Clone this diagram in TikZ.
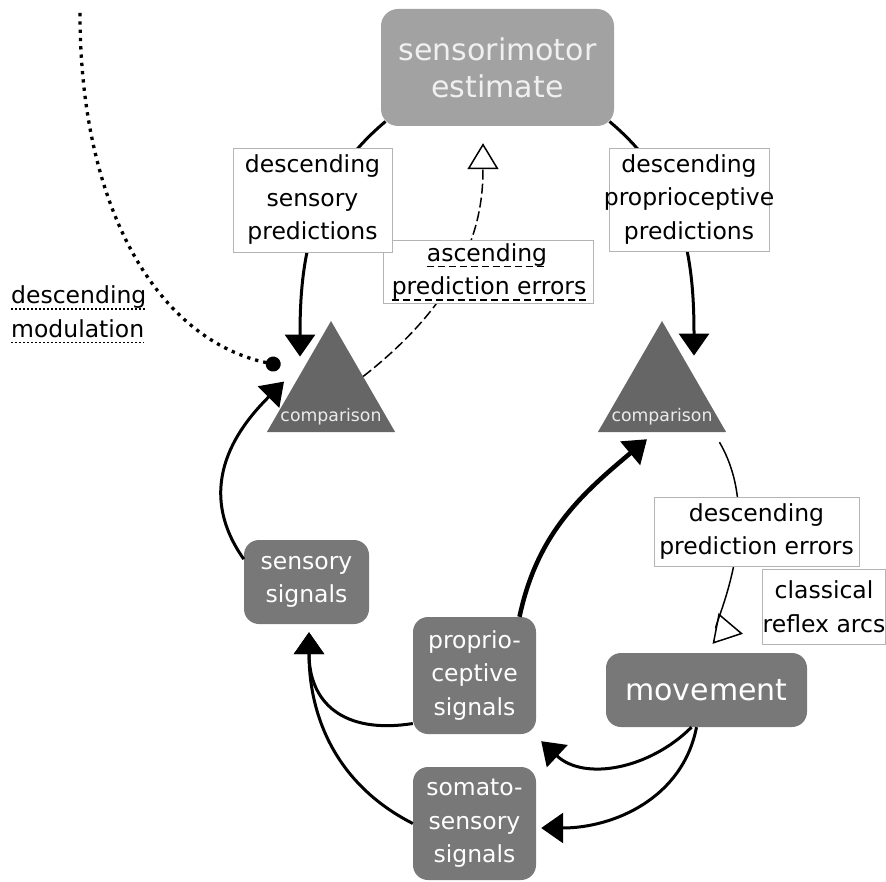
\documentclass[tikz,border=0pt]{standalone}
\usepackage{fontspec}
\setmainfont{DejaVu Sans}
\usetikzlibrary{arrows.meta,shapes.geometric}

\definecolor{estgray}{HTML}{A2A2A2}
\definecolor{boxgray}{HTML}{787878}
\definecolor{cmpgray}{HTML}{666666}
\definecolor{lblframe}{HTML}{B4B4B4}

\begin{document}
\begin{tikzpicture}[x=1pt, y=1pt,
    txt/.style={font=\fontsize{23.5}{33.5}\selectfont, align=center},
    lbl/.style={txt, draw=lblframe, line width=0.8pt, fill=white, inner sep=0pt},
    sig/.style={txt, text=white, fill=boxgray, rounded corners=15pt, inner sep=0pt},
    cmp/.style={regular polygon, regular polygon sides=3, fill=cmpgray, minimum size=148pt, inner sep=0pt},
    cmptxt/.style={font=\fontsize{17.3}{20}\selectfont, text=white!92!black, inner sep=0pt},
    pred/.style={line width=3pt, -{Triangle[length=22pt,width=30pt]}},
    err/.style={line width=1.5pt, -{Triangle[open,length=26pt,width=31pt]}},
    dashul/.style={line width=1.3pt, dash pattern=on 7pt off 4pt},
    dotul/.style={line width=1.6pt, dash pattern=on 1.6pt off 2.4pt}]

    \useasboundingbox (0,0) rectangle (886,-882);

    % Estimate and comparisons
    \node[txt, text=white!94!black, fill=estgray, rounded corners=17pt, inner sep=0pt,
          font=\fontsize{30}{37}\selectfont, minimum width=233pt, minimum height=117pt]
          (est) at (497.5,-67.5) {sensorimotor\\estimate};
    \node[cmp] (cmpL) at (331,-395) {};
    \node[cmp] (cmpR) at (662,-395) {};
    \node[cmptxt, anchor=base] (cmpLtxt) at ([yshift=11pt]cmpL.south) {comparison};
    \node[cmptxt, anchor=base] (cmpRtxt) at ([yshift=11pt]cmpR.south) {comparison};

    % Signals and movement
    \node[sig, minimum width=125pt, minimum height=84pt] (sens) at (306.5,-582) {sensory\\signals};
    \node[sig, minimum width=123pt, minimum height=117pt] (prop) at (474.5,-675.5) {proprio-\\ceptive\\signals};
    \node[sig, minimum width=123pt, minimum height=113pt] (som) at (474.5,-823.5) {somato-\\sensory\\signals};
    \node[sig, font=\fontsize{30}{37}\selectfont, minimum width=201pt, minimum height=74pt] (mov) at (706.5,-690) {movement};

    % Arrow ends
    \coordinate (sensTip) at ([shift={(-31,-36)}]cmpL.corner 1);
    \coordinate (sensIn) at ([shift={(-47,-61)}]cmpL.corner 1);
    \coordinate (modStart) at (80,-13);
    \coordinate (modEnd) at ([shift={(-50.5,-45)}]cmpL.corner 1);
    \coordinate (ascTip) at ([shift={(-14.5,-17)}]est.south);
    \coordinate (propTip) at ([shift={(32,-35)}]cmpR.corner 1);
    \coordinate (cmpRin) at ([shift={(-15,-7)}]cmpR.south);
    \coordinate (reflexOut) at ([shift={(-7,-10)}]cmpR.corner 3);
    \coordinate (reflexTip) at ([shift={(36.5,19)}]mov.north);
    \coordinate (sigIn) at ([shift={(2.5,-8)}]sens.south);
    \coordinate (propIn) at ([shift={(5,-7)}]prop.south east);
    \coordinate (somIn) at ([shift={(5,-4.5)}]som.east);

    % Descending predictions
    \draw[pred] ([shift={(4.7,4.7)}]est.south west) to[out=220,in=90] (sensTip);
    \draw[pred] ([shift={(-4.7,4.7)}]est.south east) to[out=-40,in=90] (propTip);

    % Ascending prediction errors
    \draw[err, dash pattern=on 10pt off 4pt] (cmpL.side 3) .. controls +(110,86) and +(0,-70) .. (ascTip);

    % Descending modulation
    \draw[line width=3.3pt, dash pattern=on 3.3pt off 5pt, -{Circle[length=15pt]}]
        (modStart) .. controls +(0,-200) and +(-120,25) .. (modEnd);

    % Sensory loop
    \draw[pred] (sens.160) .. controls +(-53,75) and +(-42,-42) .. (sensIn);
    \draw[pred, line width=4.5pt] ([xshift=45pt]prop.north) to[out=78,in=220] (cmpRin);
    \draw[pred] ([yshift=-48pt]prop.west) to[out=189,in=-90,looseness=1.3] (sigIn);
    \draw[pred] (som.west) to[out=153,in=-90] (sigIn);
    \draw[pred] ([xshift=-15pt]mov.south) to[out=225,in=-43] (propIn);
    \draw[pred] ([xshift=-10pt]mov.south) to[out=259,in=0] (somIn);

    % Classical reflex arcs
    \draw[line width=1.5pt, -{Triangle[open,length=28pt,width=31pt]}]
        (reflexOut) .. controls +(47,-80) and +(-31,6) .. (reflexTip);

    % Labels
    \node[lbl, minimum width=210pt, minimum height=63pt] (labAsc) at (488,-271.5) {};
    \node[txt, inner sep=0pt, anchor=base] (ascA) at (487,-261.5) {ascending};
    \node[txt, inner sep=0pt, anchor=base] (ascB) at (489,-295) {prediction errors};
    \draw[dashul] ([yshift=-5pt]ascA.base west) -- ([yshift=-5pt]ascA.base east);
    \draw[dashul] ([yshift=-5pt]ascB.base west) -- ([yshift=-5pt]ascB.base east);
    \node[lbl, minimum width=159pt, minimum height=104pt] (labSens) at (312.5,-200)
        {descending\\sensory\\predictions};
    \node[lbl, minimum width=160pt, minimum height=103pt] (labProp) at (689,-199.5)
        {descending\\\makebox[130pt]{proprioceptive}\\predictions};
    \node[lbl, minimum width=205pt, minimum height=69pt] (labErr) at (756.5,-531.5)
        {descending\\prediction errors};
    \node[lbl, minimum height=75pt, inner xsep=0.5pt] (labReflex) at (824,-606.5)
        {classical\\reflex arcs};
    \node[txt, inner sep=0pt, anchor=base west] (modA) at (11,-304) {descending};
    \node[txt, inner sep=0pt, anchor=base west] (modB) at (11,-337.5) {modulation};
    \draw[dotul] ([yshift=-5pt]modA.base west) -- ([yshift=-5pt]modA.base east);
    \draw[dotul] ([yshift=-5pt]modB.base west) -- ([yshift=-5pt]modB.base east);
\end{tikzpicture}
\end{document}
